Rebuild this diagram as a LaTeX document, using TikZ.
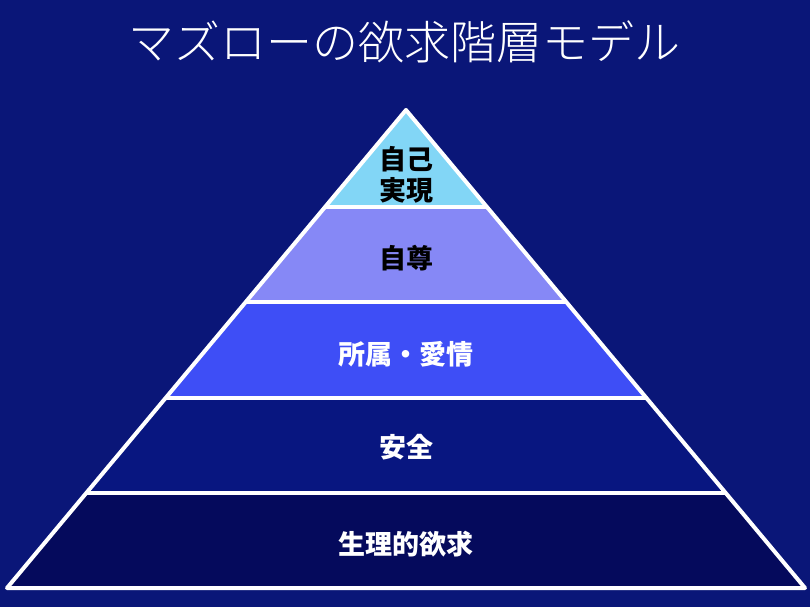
\documentclass[tikz,border=0pt]{standalone}
\usepackage{fontspec}
\newfontfamily\jp{Noto Sans CJK JP}
\newfontfamily\jplight{Noto Sans CJK JP Light}
\usepackage{tikz}
\usetikzlibrary{positioning}
\definecolor{bgnavy}{RGB}{10,22,120}
\definecolor{selfact}{RGB}{130,214,246}
\definecolor{esteem}{RGB}{134,136,246}
\definecolor{belong}{RGB}{62,78,246}
\definecolor{safety}{RGB}{8,22,128}
\definecolor{physio}{RGB}{5,10,92}

\tikzset{
  layertext/.style={font=\jp\bfseries\fontsize{27}{31}\selectfont, align=center, inner sep=0pt},
  pyrline/.style={draw=white, line width=4pt, line join=round, line cap=round}
}

\begin{document}
\begin{tikzpicture}[x=1pt,y=-1pt]
\newcommand*{\apexy}{110}
\newcommand*{\basey}{588}
\newcommand*{\halfw}{399}
\fill[bgnavy] (0,0) rectangle (810,607);
\useasboundingbox (0,0) rectangle (810,607);

\node[font=\jplight\fontsize{46}{50}\selectfont, text=white] (title) at (404,42) {マズローの欲求階層モデル};

% layers of the pyramid
\begin{scope}
  \clip (406,\apexy) -- (406-\halfw,\basey) -- (406+\halfw,\basey) -- cycle;
  \foreach \ytop/\ybot/\col in {110/207/selfact, 207/302/esteem, 302/398/belong, 398/493/safety, 493/588/physio}
  {
    \fill[\col] (0,\ytop) rectangle (810,\ybot);
  }
  \foreach \y in {207,302,398,493}
    \draw[white, line width=4pt] (0,\y) -- (810,\y);
\end{scope}
\draw[pyrline] (406,\apexy) -- (406-\halfw,\basey) -- (406+\halfw,\basey) -- cycle;

\node[layertext, text=black] (selfactual) at (406,175) {自己\\実現};
\node[layertext, text=black] (selfesteem) at (406,258) {自尊};
\node[layertext, text=white] (belonging) at (406,354) {所属・愛情};
\node[layertext, text=white] (safe) at (406,447) {安全};
\node[layertext, text=white] (physiology) at (406,544) {生理的欲求};
\end{tikzpicture}
\end{document}
